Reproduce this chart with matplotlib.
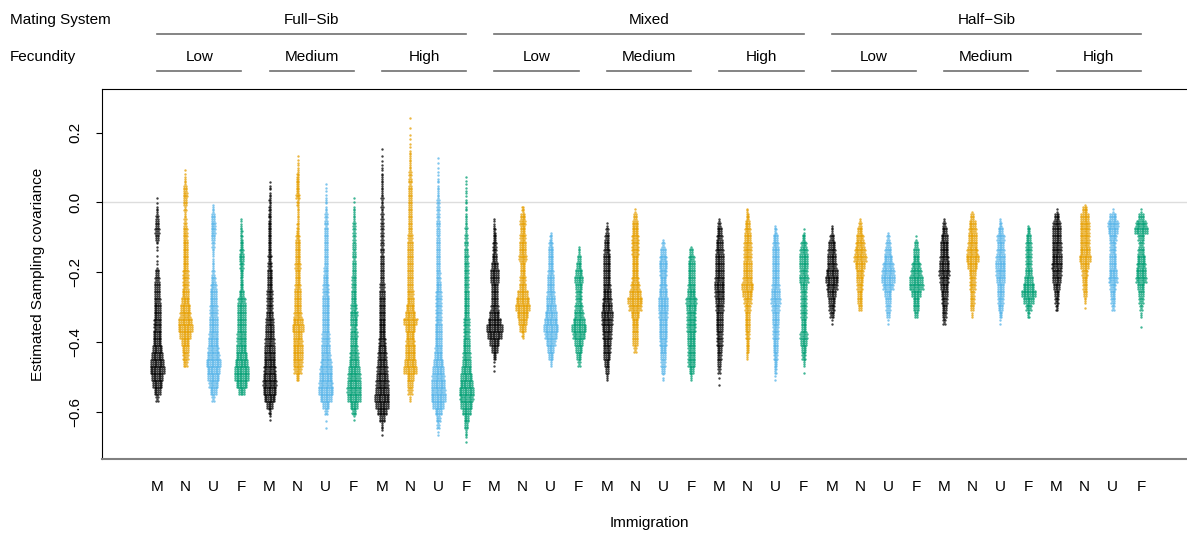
import matplotlib
matplotlib.use("Agg")
import matplotlib.pyplot as plt
import matplotlib.transforms as mtransforms
import numpy as np

plt.rcParams['font.family'] = ['Liberation Sans', 'DejaVu Sans']

# categories
mating = ["Full\u2212Sib", "Mixed", "Half\u2212Sib"]
fecundity = ["Low", "Medium", "High"]
immigration = ["M", "N", "U", "F"]
colours = ["#000000", "#E69F00", "#56B4E9", "#009E73"]

# each swarm is read off the picture as a histogram of 0.02-wide bins:
# swarm_top = centre of the highest bin, swarm_width = points per row in each bin going down
BIN = 0.02
swarm_top = [0.02, 0.10, 0.00, -0.04, 0.06, 0.14, 0.06, 0.02, 0.16, 0.26, 0.14, 0.08,
             -0.04, 0.00, -0.08, -0.12, -0.06, -0.02, -0.10, -0.12, -0.04, -0.02, -0.06, -0.08,
             -0.06, -0.04, -0.08, -0.10, -0.04, -0.02, -0.04, -0.06, -0.02, 0.00, -0.02, -0.02]

swarm_width = [
    # Full-Sib / Low
    [0.3, 0.3, 1, 1.5, 2, 2.5, 2, 0.8, 0.3, 0.3, 0.6, 2, 2.5, 3, 3, 3.5, 4, 4, 4.5, 4.5,
     5, 5, 6, 7, 8, 9, 7, 6, 4, 1.5],
    [0.3, 0.6, 1, 2, 2.5, 2, 1.2, 1.2, 1.5, 2.5, 2.5, 3, 3, 3, 3, 3.5, 3.5, 3.5, 4, 5,
     6, 6.5, 8, 9, 7, 5, 4, 3.5, 2.5],
    [0.3, 1, 2, 2.5, 2.5, 2, 1.5, 1, 0.8, 1, 1.5, 2.5, 3.5, 4, 4, 4.5, 4.5, 5, 5, 5.5,
     6, 6.5, 7.5, 9, 8, 7, 5.5, 4, 1.5],
    [0.3, 0.8, 1.2, 1.5, 2, 2.5, 3, 2.5, 2, 1.8, 2, 3, 4.5, 5, 5, 5, 5, 5.5, 5.5, 6,
     7, 8, 9, 9, 7, 4],
    # Full-Sib / Medium
    [0.4, 0.8, 1, 1.2, 1.5, 1.8, 2, 2, 2, 2, 2, 2.2, 2.5, 3, 3, 3, 3.5, 3.5, 3.5, 4,
     4.5, 5, 5, 5.5, 6, 6.5, 7, 7.5, 8, 8.5, 8, 7, 4, 1.5, 0.5],
    [0.3, 0.5, 0.8, 1.5, 2, 2, 2.5, 1.5, 1, 1, 1.2, 1.8, 2.5, 3, 3, 3, 3.5, 3, 3, 3.5,
     4, 4, 4, 4.5, 6, 7, 5, 5.5, 6, 6, 5.5, 4.5, 2],
    [0.3, 0.5, 0.6, 0.8, 1, 1.5, 1.8, 1.8, 2, 2, 2, 2, 2.2, 2.5, 3, 3.5, 3.5, 4, 4, 4,
     4, 4, 4.5, 4.5, 5, 5.5, 6.5, 7.5, 8, 8.5, 9, 7, 4, 1.5, 0.3, 0.2],
    [0.3, 0.4, 0.8, 1, 1.5, 1.5, 1.5, 1.8, 1.8, 1.8, 2, 2, 2.5, 2.5, 3, 3, 3.5, 4.5, 4, 3.5,
     4.5, 4, 4.5, 5.5, 6, 7, 7.5, 8, 8.5, 8, 5, 2.5, 0.5],
    # Full-Sib / High
    [0.3, 0.2, 0.4, 0.6, 0.8, 1, 1, 1.2, 1.2, 1.3, 1.3, 1.5, 1.5, 1.5, 1.6, 1.8, 1.8, 2, 2, 2.2,
     2.5, 3, 3.5, 3.5, 3.5, 4, 4, 4, 4.5, 5, 5.5, 6, 6.5, 7, 7.5, 8, 9, 8, 6, 3, 1, 0.3],
    [0.2, 0.1, 0.2, 0.3, 0.4, 0.5, 0.8, 1, 1.2, 1.5, 1.8, 2, 2, 2, 2, 2, 2, 2, 2.5, 3,
     3, 3, 3, 3, 3, 3, 3.5, 4, 5, 6, 8, 6, 5, 5.5, 6, 6, 7, 8, 4, 3, 2.5, 0.8],
    [0.2, 0.3, 0.4, 0.5, 0.8, 0.8, 1.2, 1.5, 1.5, 1.5, 1.8, 1.8, 1.8, 2, 2, 2, 2, 2.2, 2.5, 3,
     3.5, 3.5, 3.5, 3.5, 3.5, 4, 4, 4, 4.5, 5, 6, 7, 7.5, 8, 8.5, 9, 7, 4, 2.5, 1.5, 0.5],
    [0.3, 0.5, 0.6, 0.6, 0.7, 0.8, 1, 1, 1.2, 1.5, 1.8, 2, 2.2, 2.5, 2.5, 2.5, 2.5, 3, 3, 3,
     3, 3.5, 3.5, 3.5, 4, 4, 4.5, 5, 6, 7, 8, 9, 8.5, 7, 5, 3, 2, 1, 0.3],
    # Mixed / Low
    [0.3, 0.8, 1.5, 2, 2.5, 2.5, 3, 4, 5, 5, 4, 4, 4, 4.5, 6, 8, 10, 9, 6, 4, 2, 0.5, 0.2],
    [0.2, 1.5, 3, 3.5, 3, 3.5, 4, 4, 4.5, 3, 3, 3.5, 4, 6, 8, 9, 7, 5, 4, 1.5],
    [0.3, 1.5, 2.5, 3, 3, 3, 3.5, 4, 4, 4.5, 5, 6, 7, 8, 9, 7.5, 5.5, 4, 3, 1],
    [0.3, 1, 2, 3, 4, 5, 4, 3.5, 3.5, 4.5, 5.5, 7, 9, 7.5, 5, 4, 3, 1.5],
    # Mixed / Medium
    [0.5, 1.5, 2.5, 3, 3.5, 4, 4, 4, 4, 4.5, 5, 5.5, 6, 7, 6.5, 6, 5.5, 5, 4.5, 4, 3, 2, 1],
    [0.5, 2, 3.5, 4, 4.5, 4.5, 4.5, 4, 4, 4, 4.5, 5.5, 7, 9, 7.5, 5, 4, 3.5, 3, 3, 1.5],
    [0.3, 1.5, 3, 4.5, 5, 4.5, 4, 4.5, 5, 6, 6, 5.5, 5, 5, 5, 4.5, 4, 3, 2.5, 2, 0.8],
    [0.3, 2, 3.5, 4, 4, 4, 4.5, 5, 6.5, 6, 5.5, 5.5, 5.5, 5, 5, 4.5, 4.5, 4.5, 3, 1],
    # Mixed / High
    [0.3, 1.5, 3, 3.5, 4, 4.5, 5, 5, 5, 5.5, 6, 5.5, 5, 4.5, 4, 4, 4, 3.5, 3.5, 3,
     2.5, 2, 1.5, 0.3, 0.2],
    [0.8, 2, 3, 3.5, 4, 4.5, 4.5, 4.5, 5, 5, 5.5, 7, 6, 4.5, 3.5, 3, 3, 3, 2.5, 2, 2, 1],
    [0.3, 1.5, 3, 3.5, 4, 4, 4, 4, 4, 4.5, 5, 5.5, 4.5, 4, 4, 3.5, 3.5, 3, 3, 2.5,
     2, 1.5, 0.5],
    [0.5, 2, 3.5, 4.5, 5, 5, 4.5, 5.5, 4, 3.5, 3.5, 3.5, 3.5, 3, 3, 4.5, 4, 3, 2.5, 1, 0.3],
    # Half-Sib / Low
    [0.3, 1, 2.5, 4, 4.5, 5, 5.5, 7, 8, 6.5, 5, 4, 3.5, 2.5, 0.5],
    [0.3, 1.5, 3, 4.5, 5.5, 6.5, 7.5, 6, 4.5, 4, 3.5, 3, 3, 2],
    [0.3, 1.5, 2.5, 3.5, 5, 6.5, 7.5, 8, 6.5, 4, 3, 2.5, 2, 0.5],
    [0.5, 2, 3, 4, 5.5, 6.5, 8, 8.5, 6, 4, 3.5, 2],
    # Half-Sib / Medium
    [0.3, 1.5, 3, 4, 5, 5, 5.5, 6, 6.5, 5.5, 5, 4, 3.5, 3, 2.5, 1.5],
    [0.3, 2, 4, 4.5, 5, 5.5, 6.5, 8, 6, 4, 3.5, 3.5, 2.5, 2.5, 2, 0.8],
    [0.3, 1.5, 3, 4.5, 4, 4.5, 5.5, 6, 5.5, 5, 4, 4, 3.5, 3, 2, 0.5],
    [0.3, 2, 3, 3.5, 3.5, 3.5, 3.5, 4, 5, 7, 9, 6, 3.5, 1.5],
    # Half-Sib / High
    [0.5, 3, 4.5, 5, 5, 5.5, 5.5, 6, 6.5, 5.5, 5, 4, 3, 2.5, 1.5],
    [0.3, 3, 5, 5.5, 5.5, 5.5, 5.5, 6, 7, 5, 3.5, 3, 2.5, 2, 1, 0.3],
    [0.5, 4, 6.5, 6, 4.5, 3.5, 3.5, 4, 4, 5, 5.5, 3.5, 3, 2.5, 1.5],
    [0.5, 3, 6.5, 8, 3.5, 2.5, 3.5, 5, 5.5, 6, 6.5, 4, 3, 2.5, 1.5, 0.8, 0.1, 0.2],
]

W, H = 1187, 536
fig = plt.figure(figsize=(W / 100, H / 100), dpi=100)
ax = fig.add_axes([102 / W, 1 - 459 / H, 1094 / W, 370 / H])
ax.set_xlim(-0.96, 37.96)
ax.set_ylim(-0.735, 0.325)

ax.axhline(0.0, color="#dddddd", lw=1, zorder=0)

dx = 0.058
nsub = 4
for g, (t, w) in enumerate(zip(swarm_top, swarm_width)):
    xs, ys = [], []
    acc = 0.0
    for k, wk in enumerate(w):
        yc = t - k * BIN
        for j in range(nsub):
            acc += wk
            n = int(acc)
            acc -= n
            if n == 0:
                continue
            y = yc + BIN * (0.375 - 0.25 * j)
            off = (np.arange(n) - (n - 1) / 2) * dx
            xs.extend(g + 1 + off)
            ys.extend([y] * n)
    ax.scatter(xs, ys, s=3.0, color=colours[g % 4], alpha=0.75, linewidths=0, zorder=2)

# axes styling
ax.spines["right"].set_visible(False)
ax.spines["top"].set_color("black")
ax.spines["left"].set_color("black")
ax.spines["bottom"].set_color("#808080")
ax.spines["bottom"].set_linewidth(1.5)

ax.set_yticks([-0.6, -0.4, -0.2, 0.0, 0.2])
ax.set_yticklabels(["\u22120.6", "\u22120.4", "\u22120.2", "0.0", "0.2"], rotation=90, va="center")
ax.tick_params(axis="y", length=4, pad=10, labelsize=11)
ax.set_xticks(np.arange(1, 37))
ax.set_xticklabels(immigration * 9)
ax.tick_params(axis="x", length=0, pad=15, labelsize=11)

fig.text(38 / W, 1 - 274 / H, "Estimated Sampling covariance", rotation=90,
         ha="center", va="center", fontsize=11)
fig.text(649 / W, 1 - 523 / H, "Immigration", ha="center", va="center", fontsize=11)

# header: mating system and fecundity
tr = mtransforms.blended_transform_factory(ax.transData, fig.transFigure)
fig.text(10 / W, 1 - 20 / H, "Mating System", ha="left", va="center", fontsize=11)
fig.text(10 / W, 1 - 57 / H, "Fecundity", ha="left", va="center", fontsize=11)
for m, mname in enumerate(mating):
    x0, x1 = m * 12 + 1, m * 12 + 12
    ax.text((x0 + x1) / 2, 1 - 20 / H, mname, transform=tr, ha="center", va="center",
            fontsize=11, clip_on=False)
    ax.plot([x0, x1], [1 - 34 / H] * 2, transform=tr, color="#707070", lw=1.2, clip_on=False)
    for f, fname in enumerate(fecundity):
        f0, f1 = x0 + f * 4, x0 + f * 4 + 3
        ax.text((f0 + f1) / 2, 1 - 57 / H, fname, transform=tr, ha="center", va="center",
                fontsize=11, clip_on=False)
        ax.plot([f0, f1], [1 - 71 / H] * 2, transform=tr, color="#707070", lw=1.2, clip_on=False)

fig.savefig("out.png", dpi=100)
